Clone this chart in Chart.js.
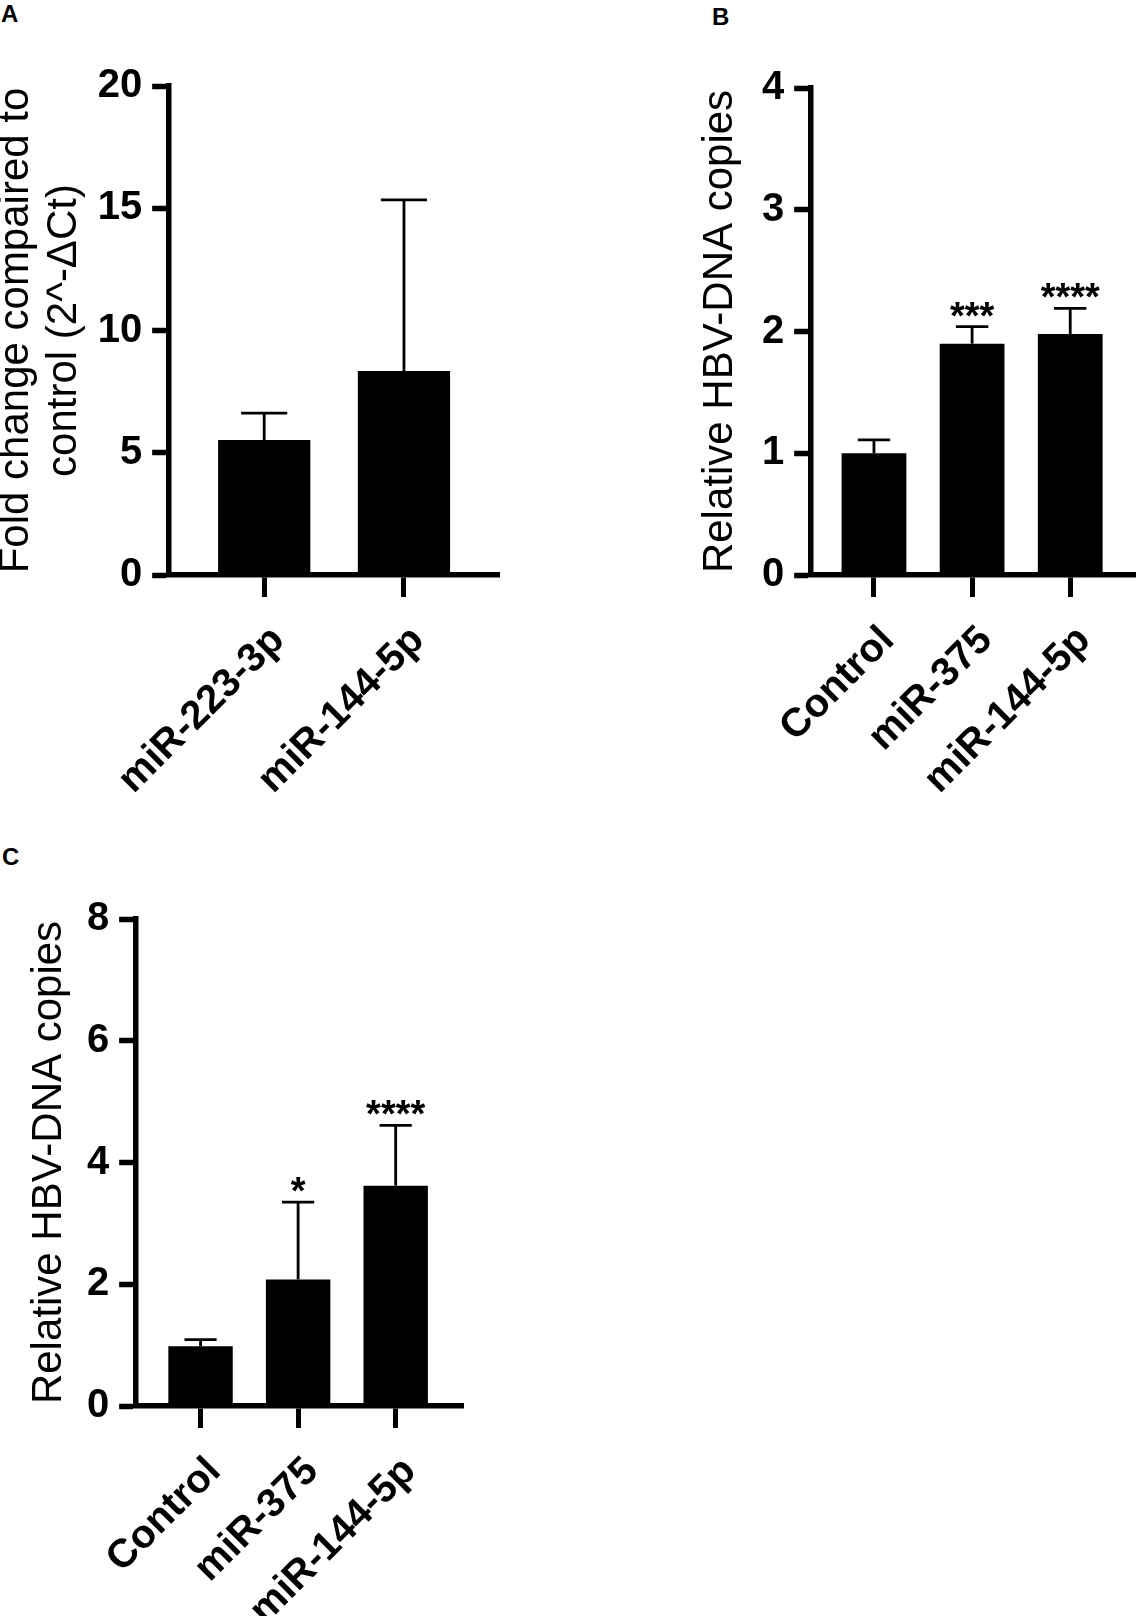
<!DOCTYPE html>
<html lang="en">
<head>
<meta charset="UTF-8" />
<title>miRNA and HBV-DNA bar charts</title>
<style>
  html, body { margin: 0; padding: 0; background: #fff; }
  body { width: 1137px; height: 1616px; position: relative; overflow: hidden;
         font-family: "Liberation Sans", Arial, sans-serif; }
  canvas { position: absolute; }
  .tag { position: absolute; font-weight: bold; font-size: 24px; line-height: 1; color: #000; }
</style>
</head>
<body>
<div class="tag" style="left:1px;top:2px">A</div>
<div class="tag" style="left:712px;top:5px">B</div>
<div class="tag" style="left:2px;top:845px">C</div>
<canvas id="chartA"></canvas>
<canvas id="chartB"></canvas>
<canvas id="chartC"></canvas>

<script src="https://cdn.jsdelivr.net/npm/chart.js"></script>
<script>
// panel A
const catsA = ["miR-223-3p", "miR-144-5p"];
const meanA = [5.52, 8.34];
const sdA = [1.10, 7.00];
const yMaxA = 20, yStepA = 5;

// panel B
const catsB = ["Control", "miR-375", "miR-144-5p"];
const meanB = [1.00, 1.90, 1.98];
const sdB = [0.11, 0.14, 0.21];
const starsB = ["", "***", "****"];
const yMaxB = 4, yStepB = 1;

// panel C
const catsC = ["Control", "miR-375", "miR-144-5p"];
const meanC = [0.98, 2.08, 3.62];
const sdC = [0.11, 1.27, 0.99];
const starsC = ["", "*", "****"];
const yMaxC = 8, yStepC = 2;

Chart.defaults.font.family = "'Liberation Sans', Arial, sans-serif";
Chart.defaults.color = "#000";

const TITLE_SIZE = 42, TITLE_LH = 1.15;

// upper error bar (mean + SD) and significance stars
const errorBars = {
  id: "errorBars",
  afterDatasetsDraw(chart, args, opts) {
    const { ctx } = chart;
    const y = chart.scales.y;
    const meta = chart.getDatasetMeta(0);
    ctx.save();
    ctx.strokeStyle = "#000";
    ctx.fillStyle = "#000";
    opts.sd.forEach((sd, i) => {
      const bar = meta.data[i];
      const top = y.getPixelForValue(opts.mean[i] + sd);
      const half = bar.width / 4;
      ctx.lineWidth = 2.8;
      ctx.beginPath();
      ctx.moveTo(bar.x, bar.y);
      ctx.lineTo(bar.x, top);
      ctx.stroke();
      ctx.beginPath();
      ctx.moveTo(bar.x - half, top);
      ctx.lineTo(bar.x + half, top);
      ctx.stroke();
      const s = opts.stars ? opts.stars[i] : "";
      if (s) {
        ctx.font = "bold 38px 'Liberation Sans', Arial, sans-serif";
        ctx.textAlign = "center";
        ctx.textBaseline = "alphabetic";
        const m = ctx.measureText(s);
        const up = -m.actualBoundingBoxDescent;
        ctx.fillText(s, bar.x, top - 10 + up);
      }
    });
    ctx.restore();
  }
};

// p = page-space placement of the panel
function makePanel(id, cats, mean, sd, stars, yMax, yStep, title, p) {
  const canvas = document.getElementById(id);
  const left = p.titleMid - (TITLE_SIZE * TITLE_LH) / 2;
  const w = p.right - left;
  const h = p.bottom - p.top;
  canvas.width = w;
  canvas.height = h;
  canvas.style.left = left + "px";
  canvas.style.top = p.top + "px";

  const yWidth = p.areaLeft - left;
  const xHeight = p.bottom - p.areaBottom;

  return new Chart(canvas, {
    type: "bar",
    data: {
      datasets: [{
        data: cats.map((c, i) => ({ x: i, y: mean[i] })),
        backgroundColor: "#000",
        borderWidth: 0,
        barPercentage: 0.66,
        categoryPercentage: 1
      }]
    },
    options: {
      responsive: false,
      animation: false,
      layout: {
        padding: { left: 0, top: p.areaTop - p.top, right: p.right - p.areaRight, bottom: 0 }
      },
      plugins: {
        legend: { display: false },
        tooltip: { enabled: false },
        errorBars: { mean: mean, sd: sd, stars: stars }
      },
      scales: {
        x: {
          type: "linear",
          min: p.xMin,
          max: p.xMax,
          bounds: "data",
          offset: false,
          // one tick per category
          afterBuildTicks: (s) => { s.ticks = cats.map((c, i) => ({ value: i })); },
          afterFit: (s) => { s.height = xHeight; },
          border: { display: true, color: "#000", width: 5.5 },
          grid: { display: true, offset: false, drawOnChartArea: false, drawTicks: true,
                  tickLength: 22, tickWidth: 5, tickColor: "#000" },
          ticks: {
            autoSkip: false,
            minRotation: 45, maxRotation: 45, padding: 20, labelOffset: 14,
            font: { size: 40, weight: "bold" },
            callback: (v) => (cats[v] !== undefined ? cats[v] : "")
          }
        },
        y: {
          min: 0,
          max: yMax,
          afterFit: (s) => { s.width = yWidth; },
          border: { display: true, color: "#000", width: 5.5 },
          grid: { display: true, drawOnChartArea: false, drawTicks: true,
                  tickLength: 17, tickWidth: 5.5, tickColor: "#000" },
          ticks: { stepSize: yStep, padding: 10, font: { size: 40, weight: "bold" } },
          title: {
            display: true, text: title, padding: 0,
            font: { size: TITLE_SIZE, lineHeight: TITLE_LH }
          }
        }
      }
    },
    plugins: [errorBars]
  });
}

makePanel("chartA", catsA, meanA, sdA, null, yMaxA, yStepA,
  ["Fold change compaired to", "control (2^-\u0394Ct)"],
  { titleMid: 16, top: 0, bottom: 800, right: 560,
    areaLeft: 169, areaRight: 499, areaTop: 86, areaBottom: 575,
    xMin: -0.68, xMax: 1.68 });

makePanel("chartB", catsB, meanB, sdB, starsB, yMaxB, yStepB,
  "Relative HBV-DNA copies",
  { titleMid: 720, top: 0, bottom: 800, right: 1137,
    areaLeft: 811, areaRight: 1135, areaTop: 88, areaBottom: 575,
    xMin: -0.64, xMax: 2.66 });

makePanel("chartC", catsC, meanC, sdC, starsC, yMaxC, yStepC,
  "Relative HBV-DNA copies",
  { titleMid: 49, top: 800, bottom: 1616, right: 560,
    areaLeft: 136, areaRight: 463, areaTop: 919, areaBottom: 1406,
    xMin: -0.66, xMax: 2.69 });
</script>
</body>
</html>
